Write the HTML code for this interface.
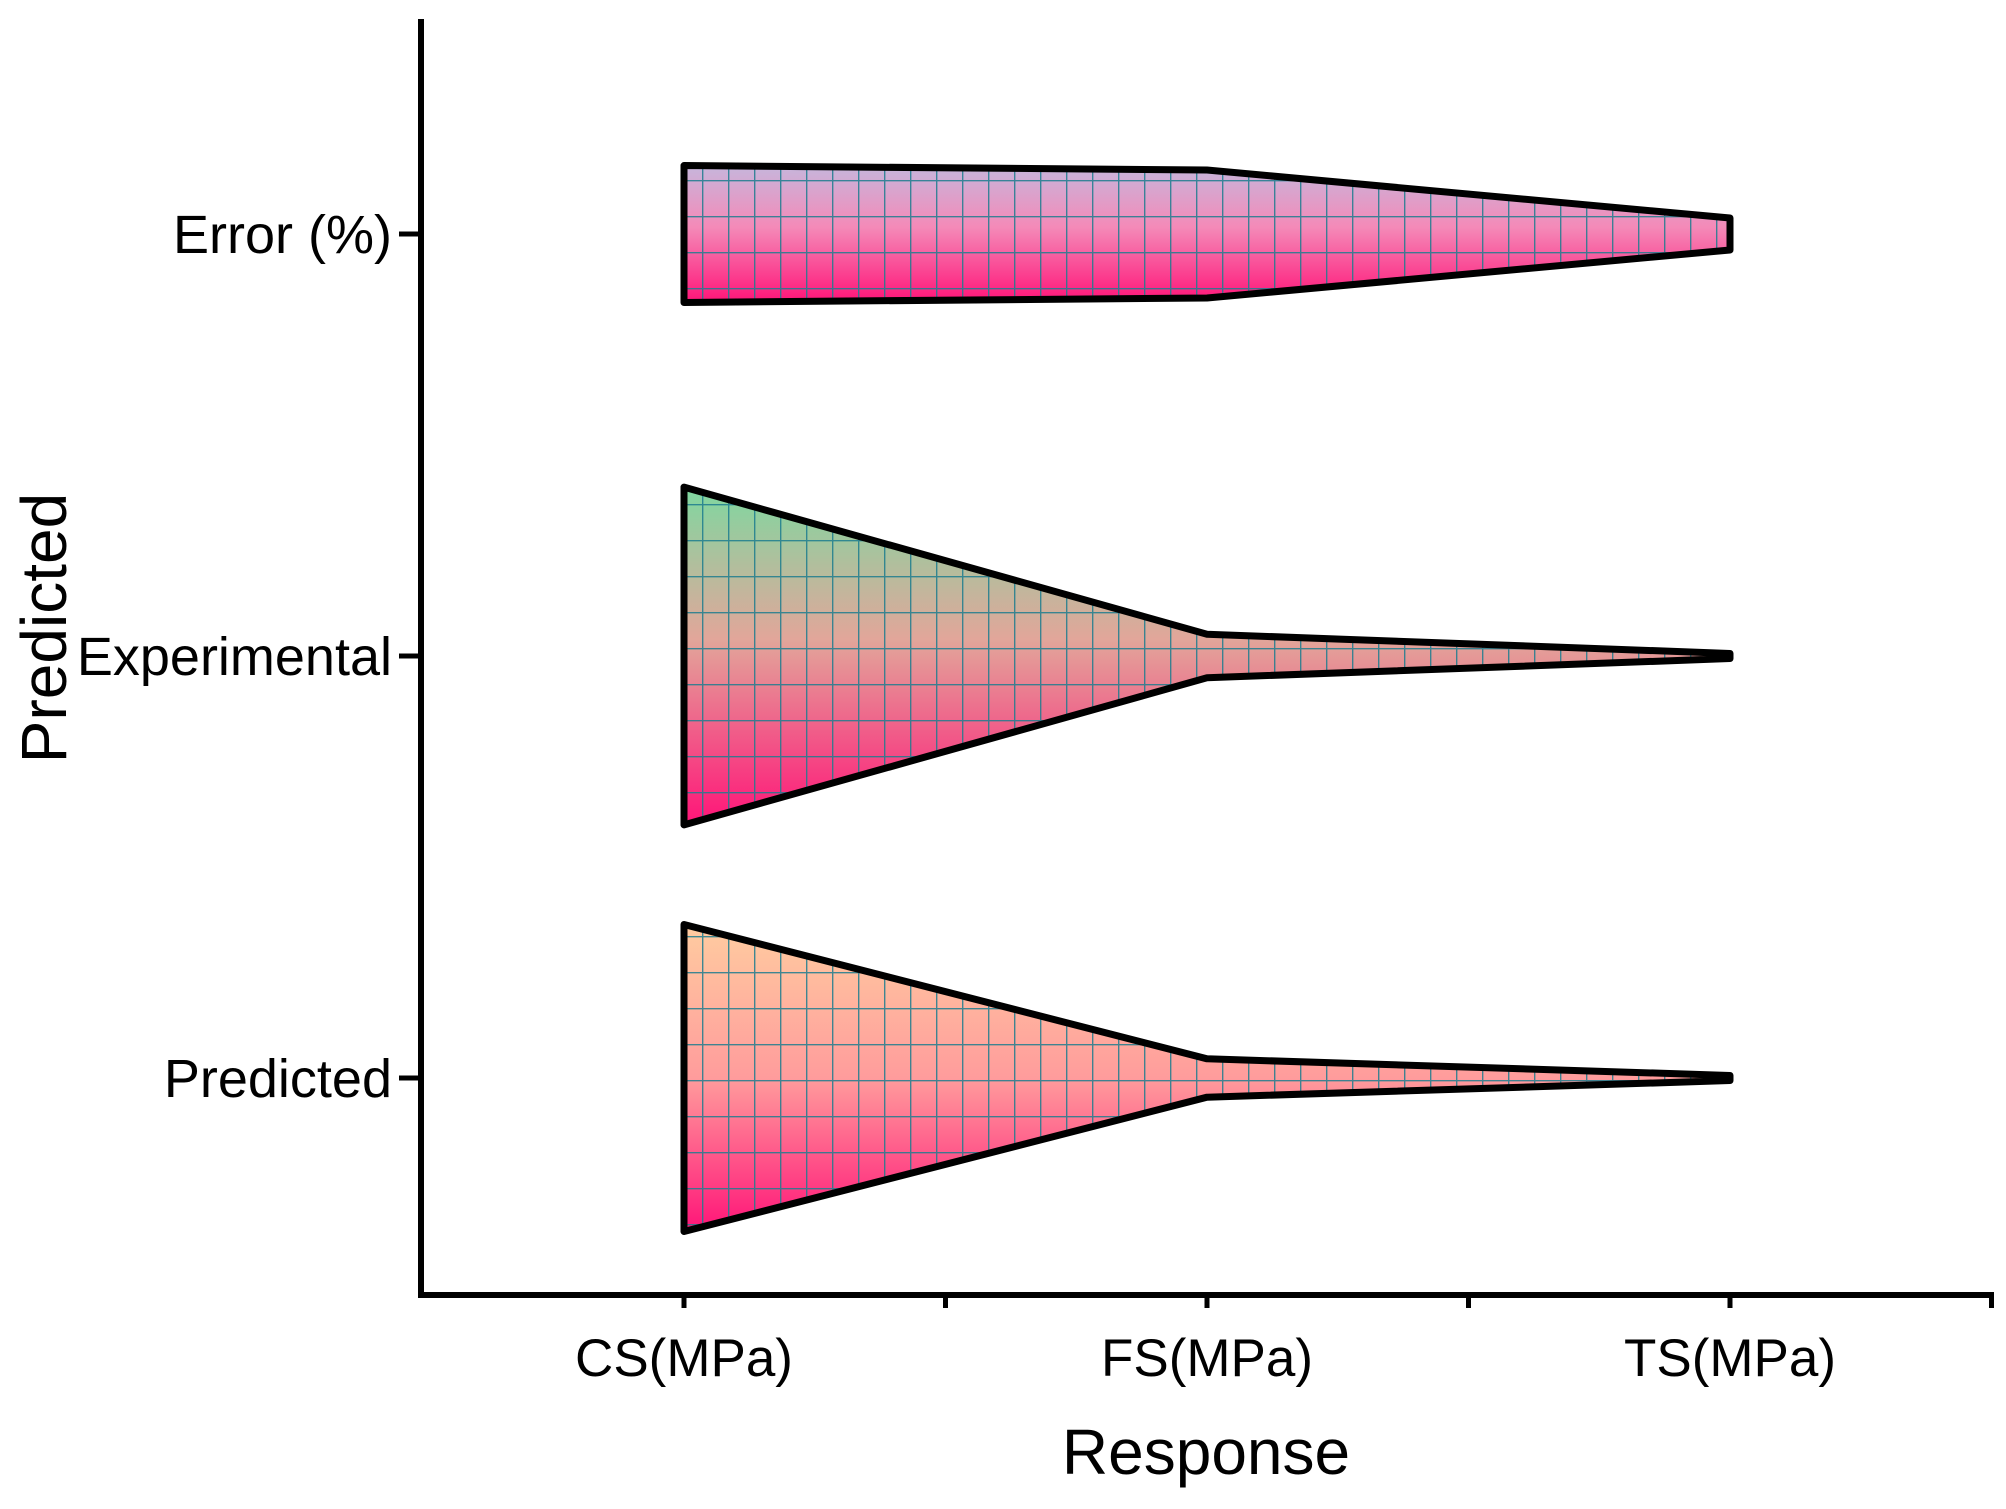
<!DOCTYPE html>
<html><head><meta charset="utf-8"><style>
html,body{margin:0;padding:0;background:#fff}
svg{display:block}
text{font-family:"Liberation Sans",Arial,sans-serif;fill:#000}
</style></head><body>
<svg id="chart" width="2006" height="1509" viewBox="0 0 2006 1509" xmlns="http://www.w3.org/2000/svg">
<defs>
<linearGradient id="g-error" x1="0" y1="0" x2="0" y2="1">
<stop offset="0" stop-color="#c6b6dc"/><stop offset="0.45" stop-color="#f48ab8"/><stop offset="1" stop-color="#ff1478"/></linearGradient>
<linearGradient id="g-exp" x1="0" y1="0" x2="0" y2="1">
<stop offset="0" stop-color="#7ed8a0"/><stop offset="0.45" stop-color="#e2a69a"/><stop offset="1" stop-color="#ff1478"/></linearGradient>
<linearGradient id="g-pred" x1="0" y1="0" x2="0" y2="1">
<stop offset="0" stop-color="#ffcca0"/><stop offset="0.5" stop-color="#ff9c9c"/><stop offset="1" stop-color="#ff1478"/></linearGradient>
<pattern id="grid" patternUnits="userSpaceOnUse" width="26" height="36">
<path d="M0.5 0V36M0 0.5H26" stroke="#1d7d8e" stroke-width="1.8" fill="none" opacity="0.85"/></pattern>
</defs>
<g id="plot"></g>
<line x1="421" y1="19" x2="421" y2="1298" stroke="#000" stroke-width="6"/>
<line x1="418" y1="1295" x2="1994" y2="1295" stroke="#000" stroke-width="6"/>
<g id="xticks"></g>
<g id="yticks"></g>
<text x="1206" y="1474" font-size="64" text-anchor="middle">Response</text>
<text transform="translate(66,628) rotate(-90)" font-size="64" text-anchor="middle">Predicted</text>
</svg>
<script>
const categories = ["CS(MPa)", "FS(MPa)", "TS(MPa)"];
const seriesNames = ["Error (%)", "Experimental", "Predicted"];
const errorValues = [53.5, 50, 12.5];
const experimentalValues = [132, 17, 2];
const predictedValues = [120, 15, 2];
const fills = ["url(#g-error)", "url(#g-exp)", "url(#g-pred)"];

const svgNS = "http://www.w3.org/2000/svg";
const xPos = i => 684 + i * 523;
const yPos = i => 234 + i * 422;
const wScale = v => v * 1.2793;

const plot = document.getElementById("plot");
const allSeries = [errorValues, experimentalValues, predictedValues];
allSeries.forEach((vals, s) => {
  const cy = yPos(s);
  const top = vals.map((v, i) => [xPos(i), cy - wScale(v)]);
  const bot = vals.map((v, i) => [xPos(i), cy + wScale(v)]).reverse();
  const pts = top.concat(bot).map(p => p.join(",")).join(" ");
  const g = document.createElementNS(svgNS, "g");
  
  
  ["fill", "grid", "outline"].forEach(k => {
    const p = document.createElementNS(svgNS, "polygon");
    p.setAttribute("points", pts);
    if (k === "fill") p.setAttribute("fill", fills[s]);
    else if (k === "grid") p.setAttribute("fill", "url(#grid)");
    else { p.setAttribute("fill", "none"); p.setAttribute("stroke", "#000"); p.setAttribute("stroke-width", "7"); p.setAttribute("stroke-linejoin", "round"); }
    g.appendChild(p);
  });
  plot.appendChild(g);
});

const xt = document.getElementById("xticks");
for (let k = 0; k <= 5; k++) {
  const x = 684 + k * 261.5;
  const l = document.createElementNS(svgNS, "line");
  
  
  l.setAttribute("x1", x); l.setAttribute("x2", x);
  l.setAttribute("y1", 1295); l.setAttribute("y2", 1308);
  l.setAttribute("stroke", "#000"); l.setAttribute("stroke-width", "5");
  xt.appendChild(l);
}
categories.forEach((c, i) => {
  const t = document.createElementNS(svgNS, "text");
  
  
  t.setAttribute("x", xPos(i)); t.setAttribute("y", 1376);
  t.setAttribute("font-size", "53"); t.setAttribute("text-anchor", "middle");
  t.textContent = c;
  xt.appendChild(t);
});
const yt = document.getElementById("yticks");
seriesNames.forEach((n, s) => {
  const y = yPos(s);
  const l = document.createElementNS(svgNS, "line");
  
  
  l.setAttribute("x1", 399); l.setAttribute("x2", 421);
  l.setAttribute("y1", y); l.setAttribute("y2", y);
  l.setAttribute("stroke", "#000"); l.setAttribute("stroke-width", "5");
  yt.appendChild(l);
  const t = document.createElementNS(svgNS, "text");
  
  
  t.setAttribute("x", 392); t.setAttribute("y", y + 19);
  t.setAttribute("font-size", "54"); t.setAttribute("text-anchor", "end");
  t.textContent = n;
  yt.appendChild(t);
});
</script>
</body></html>
